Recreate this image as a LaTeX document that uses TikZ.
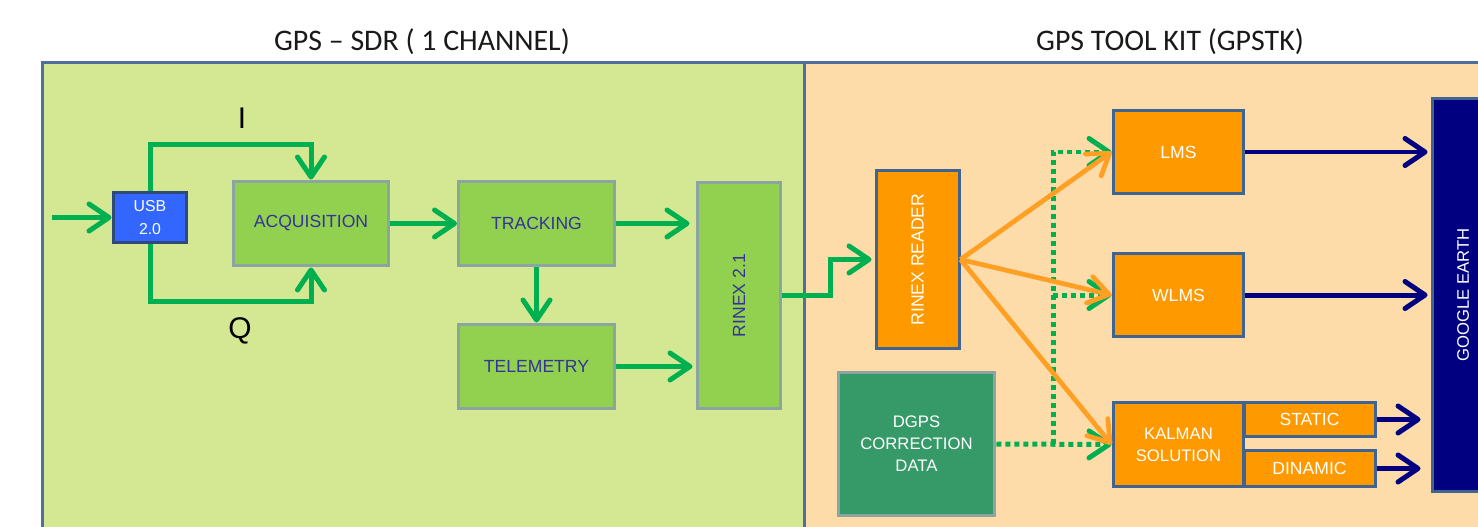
\documentclass[tikz,border=0pt]{standalone}
\usepackage{fontspec}
\setmainfont{Liberation Sans}
\newfontfamily\headfont{Carlito}
\usetikzlibrary{arrows.meta}

\definecolor{sdrback}{HTML}{D4E894}
\definecolor{gpstkback}{HTML}{FDDCA9}
\definecolor{panelline}{HTML}{4F6E9C}
\definecolor{blockgreen}{HTML}{92D050}
\definecolor{blockgray}{HTML}{8DA5A2}
\definecolor{arrowgreen}{HTML}{00B050}
\definecolor{usbblue}{HTML}{3366FF}
\definecolor{usbline}{HTML}{2E4A7A}
\definecolor{toolorange}{HTML}{FF9900}
\definecolor{arroworange}{HTML}{FFA024}
\definecolor{dgpsgreen}{HTML}{359A68}
\definecolor{earthnavy}{HTML}{000080}
\definecolor{labelblue}{HTML}{333399}
\definecolor{toolline}{HTML}{41638F}

\begin{document}
\begin{tikzpicture}[%
        x = 0.02cm, y = -0.02cm,
        every node/.style = {inner sep = 0pt, align = center,
            font = \fontsize{10}{14}\selectfont},
        panel/.style = {draw = panelline, line width = 0.06cm},
        sdrblock/.style = {draw = blockgray, line width = 0.06cm,
            fill = blockgreen, text = labelblue,
            minimum width = 3.12cm, minimum height = 1.7cm},
        toolblock/.style = {draw = toolline, line width = 0.06cm,
            fill = toolorange, text = white,
            minimum width = 2.62cm, minimum height = 1.68cm},
        tip/.style = {-{Straight Barb[length = 0.4cm, width = 0.54cm, round]}},
        garrow/.style = {tip, draw = arrowgreen, line width = 0.1cm},
        gdotted/.style = {garrow, dash pattern = on 0.1cm off 0.08cm},
        oarrow/.style = {tip, draw = arroworange, line width = 0.095cm},
        narrow/.style = {tip, draw = earthnavy, line width = 0.1cm}
    ]

        \useasboundingbox (0, 0) rectangle (1478, 527);
        \clip (0, 0) rectangle (1478, 527);

        % Two panels and their headings.
        \draw[panel, fill = sdrback] (42, 63) rectangle (804, 560);
        \draw[panel, fill = gpstkback] (804, 63) rectangle (1530, 560);
        \node[font = \headfont\fontsize{17}{20}\selectfont, text = black!90] (sdrtitle)
            at (422, 42) {GPS – SDR ( 1 CHANNEL)};
        \node[font = \headfont\fontsize{17}{20}\selectfont, text = black!90] (gpstktitle)
            at (1170, 42) {GPS TOOL KIT (GPSTK)};

        % Receiver chain of the software radio.
        \node[draw = usbline, line width = 0.06cm, fill = usbblue, text = white,
            minimum width = 1.48cm, minimum height = 1.02cm,
            font = \fontsize{9}{13}\selectfont] (usb) at (150, 217.5) {USB\\2.0};
        \node[sdrblock] (acq) at (311, 223.5) {ACQUISITION};
        \node[sdrblock] (trk) at (536.5, 223.5) {TRACKING};
        \node[sdrblock] (tel) at (536.5, 366.5) {TELEMETRY};
        \node[sdrblock, minimum width = 1.68cm, minimum height = 4.54cm] (rnx)
            at (739, 295.5) {\rotatebox{90}{RINEX 2.1}};
        \coordinate (antenna) at (52, 217.5);
        \node[font = \fontsize{17}{20}\selectfont] (ilabel) at (242, 118) {I};
        \node[font = \fontsize{17}{20}\selectfont] (qlabel) at (240, 331) {Q};

        % Blocks of the tool kit.
        \node[toolblock, minimum width = 1.66cm, minimum height = 3.58cm] (rdr)
            at (917.5, 259.5) {\rotatebox{90}{RINEX READER}};
        \node[draw = blockgray, line width = 0.06cm, fill = dgpsgreen, text = white,
            minimum width = 3.14cm, minimum height = 2.88cm,
            font = \fontsize{9.5}{12.5}\selectfont] (dgps) at (916.5, 444)
            {DGPS\\CORRECTION\\DATA};
        \node[toolblock] (lms) at (1178.5, 152) {LMS};
        \node[toolblock] (wlms) at (1178.5, 295) {WLMS};
        \node[toolblock, minimum height = 1.7cm, font = \fontsize{9.5}{12.5}\selectfont]
            (kal) at (1178.5, 444.5) {KALMAN\\SOLUTION};
        \node[toolblock, minimum height = 0.7cm] (static) at (1309.5, 419.5) {STATIC};
        \node[toolblock, minimum height = 0.74cm] (dinamic) at (1309.5, 468.5) {DINAMIC};
        \node[draw = toolline, line width = 0.06cm, fill = earthnavy, text = white,
            minimum width = 1.24cm, minimum height = 7.88cm,
            font = \fontsize{9.5}{12}\selectfont] (earth) at (1463, 295)
            {\rotatebox{90}{GOOGLE EARTH}};

        % Green arrows between the radio blocks.
        \draw[garrow] (antenna) -- (usb.west);
        \draw[garrow] (usb.north) -- (usb.north |- 0, 145) -| (acq.north);
        \draw[garrow] (usb.south) -- (usb.south |- 0, 301) -| (acq.south);
        \draw[garrow] (acq.east) -- (trk.west);
        \draw[garrow] (trk.south) -- (tel.north);
        \draw[garrow, shorten > = 0.12cm] (trk.east) -- (trk.east -| rnx.west);
        \draw[garrow, shorten > = 0.06cm] (tel.east) -- (tel.east -| rnx.west);
        \draw[garrow, shorten > = 0.06cm] (rnx.east) -- (830, 295.5) |- (rdr.west);

        % Dotted correction paths.
        \coordinate (dgpsjoin) at (1053, 444);
        \draw[gdotted] (dgps.east) -- (kal.west);
        \draw[gdotted] (dgpsjoin) |- (lms.west);
        \draw[gdotted] (dgpsjoin |- wlms.west) -- (wlms.west);

        % Orange arrows out of the reader.
        \draw[oarrow] (rdr.east) -- (lms.west);
        \draw[oarrow] (rdr.east) -- (wlms.west);
        \draw[oarrow] (rdr.east) -- (kal.west);

        % Navy arrows into the map viewer.
        \draw[narrow, shorten > = 0.06cm] (lms.east) -- (lms.east -| earth.west);
        \draw[narrow, shorten > = 0.06cm] (wlms.east) -- (wlms.east -| earth.west);
        \draw[narrow, shorten > = 0.2cm] (static.east) -- (static.east -| earth.west);
        \draw[narrow, shorten > = 0.2cm] (dinamic.east) -- (dinamic.east -| earth.west);
    \end{tikzpicture}
\end{document}
